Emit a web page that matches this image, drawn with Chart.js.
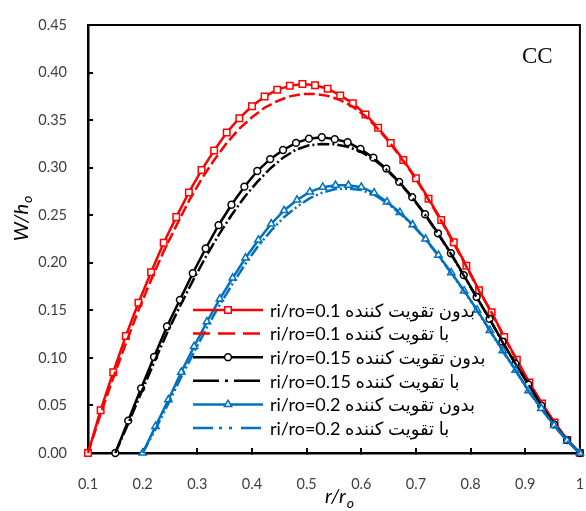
<!DOCTYPE html>
<html><head><meta charset="utf-8">
<script src="https://cdn.jsdelivr.net/npm/chart.js@4/dist/chart.umd.min.js"></script>
<style>html,body{margin:0;padding:0;background:#fff;overflow:hidden}#wrap{width:586px;height:511px;position:relative}canvas{display:block}</style>
</head><body><div id="wrap"><canvas id="c"></canvas></div>
<script>
// r/ro positions and W/ho values
const rA = [0.1,0.1231,0.1462,0.1692,0.1923,0.2154,0.2385,0.2615,0.2846,0.3077,0.3308,0.3538,0.3769,0.4,0.4231,0.4462,0.4692,0.4923,0.5154,0.5385,0.5615,0.5846,0.6077,0.6308,0.6538,0.6769,0.7,0.7231,0.7462,0.7692,0.7923,0.8154,0.8385,0.8615,0.8846,0.9077,0.9308,0.9538,0.9769,1.0];
const wA_without = [0,0.045,0.085,0.123,0.158,0.190,0.221,0.248,0.274,0.2975,0.318,0.337,0.352,0.3645,0.3747,0.382,0.386,0.388,0.3866,0.383,0.376,0.3676,0.356,0.342,0.326,0.308,0.289,0.2674,0.245,0.2215,0.197,0.171,0.148,0.122,0.098,0.074,0.052,0.032,0.0137,0];
const wA_with = [0,0.041,0.079,0.115,0.150,0.182,0.212,0.239,0.265,0.288,0.308,0.326,0.341,0.353,0.363,0.370,0.375,0.3775,0.3775,0.3755,0.371,0.364,0.354,0.3405,0.325,0.307,0.288,0.2665,0.244,0.2205,0.196,0.1705,0.1475,0.1215,0.0975,0.0735,0.0515,0.0315,0.0135,0];

const rB = [0.15,0.1736,0.1972,0.2208,0.2444,0.2681,0.2917,0.3153,0.3389,0.3625,0.3861,0.4097,0.4333,0.4569,0.4806,0.5042,0.5278,0.5514,0.575,0.5986,0.6222,0.6458,0.6694,0.6931,0.7167,0.7403,0.7639,0.7875,0.8111,0.8347,0.8583,0.8819,0.9056,0.9292,0.9528,0.9764,1.0];
const wB_without = [0,0.034,0.068,0.101,0.133,0.161,0.189,0.215,0.2395,0.261,0.280,0.2965,0.309,0.3186,0.326,0.3305,0.332,0.330,0.3267,0.3196,0.3105,0.299,0.285,0.269,0.251,0.231,0.210,0.187,0.164,0.141,0.117,0.094,0.072,0.050,0.030,0.0135,0];
const wB_with = [0,0.031,0.063,0.095,0.126,0.154,0.181,0.206,0.229,0.250,0.269,0.285,0.299,0.3105,0.319,0.3235,0.325,0.3245,0.322,0.317,0.309,0.298,0.2845,0.2685,0.2505,0.2305,0.2095,0.1865,0.1635,0.141,0.1165,0.094,0.0725,0.050,0.030,0.0135,0];

const rC = [0.2,0.2235,0.2471,0.2706,0.2941,0.3176,0.3412,0.3647,0.3882,0.4118,0.4353,0.4588,0.4824,0.5059,0.5294,0.5529,0.5765,0.6,0.6235,0.6471,0.6706,0.6941,0.7176,0.7412,0.7647,0.7882,0.8118,0.8353,0.8588,0.8824,0.9059,0.9294,0.9529,0.9765,1.0];
const wC_without = [0,0.028,0.056,0.085,0.112,0.138,0.162,0.184,0.205,0.224,0.241,0.255,0.266,0.2745,0.2795,0.2815,0.2815,0.2795,0.2735,0.264,0.253,0.240,0.225,0.208,0.1895,0.1705,0.1505,0.129,0.1076,0.087,0.0655,0.047,0.029,0.013,0];
const wC_with = [0,0.025,0.052,0.080,0.106,0.132,0.156,0.178,0.199,0.218,0.234,0.248,0.259,0.268,0.274,0.2775,0.278,0.2765,0.2715,0.263,0.252,0.2395,0.2245,0.2075,0.189,0.170,0.150,0.1285,0.107,0.0865,0.065,0.0465,0.0285,0.0128,0];

const seriesLabels = [
  'ri/ro=0.1 بدون تقویت کننده',
  'ri/ro=0.1 با تقویت کننده',
  'ri/ro=0.15 بدون تقویت کننده',
  'ri/ro=0.15 با تقویت کننده',
  'ri/ro=0.2 بدون تقویت کننده',
  'ri/ro=0.2 با تقویت کننده'
];
const xTickValues = [0.1,0.2,0.3,0.4,0.5,0.6,0.7,0.8,0.9,1.0];
const xTickLabels = ['0.1','0.2','0.3','0.4','0.5','0.6','0.7','0.8','0.9','1'];
const yTickValues = [0,0.05,0.10,0.15,0.20,0.25,0.30,0.35,0.40,0.45];
const yTickLabels = ['0.00','0.05','0.10','0.15','0.20','0.25','0.30','0.35','0.40','0.45'];
const xTitle = ['r/r', 'o'];
const yTitle = ['W/h', 'o'];
const panelLabel = 'CC';

const RED = '#FF0000', BLACK = '#000000', BLUE = '#0070C0';
const pairs = (rs, ws) => rs.map((r, i) => ({x: r, y: ws[i]}));

function mk(label, rs, ws, color, opts) {
  return Object.assign({
    label, data: pairs(rs, ws), borderColor: color, backgroundColor: color,
    borderWidth: 2.5, pointRadius: 0, pointHoverRadius: 0, pointBackgroundColor: '#fff',
    pointBorderColor: color, pointBorderWidth: 1.5, clip: false, tension: 0, borderDash: []
  }, opts);
}

const datasets = [
  mk(seriesLabels[0], rA, wA_without, RED, {pointStyle: 'rect', pointRadius: 4.6}),
  mk(seriesLabels[1], rA, wA_with, RED, {borderDash: [11, 4], legendDash: [17, 8]}),
  mk(seriesLabels[2], rB, wB_without, BLACK, {pointStyle: 'circle', pointRadius: 3.4}),
  mk(seriesLabels[3], rB, wB_with, BLACK, {borderDash: [12, 3, 2, 3], legendDash: [26, 6, 3, 6]}),
  mk(seriesLabels[4], rC, wC_without, BLUE, {pointStyle: 'triangle', pointRadius: 4.2}),
  mk(seriesLabels[5], rC, wC_with, BLUE, {borderDash: [12, 3, 2, 3, 2, 3], legendDash: [20, 6, 3, 7, 3, 9]})
];
datasets.forEach((d, i) => { d.order = datasets.length - 1 - i; });

function drawMarker(ctx, style, r, x, y) {
  ctx.beginPath();
  if (style === 'rect') {
    const s = r * Math.SQRT1_2;
    ctx.rect(x - s, y - s, 2 * s, 2 * s);
  } else if (style === 'circle') {
    ctx.arc(x, y, r, 0, Math.PI * 2);
  } else if (style === 'triangle') {
    ctx.moveTo(x, y - r);
    ctx.lineTo(x + r * Math.sin(Math.PI * 2 / 3), y - r * Math.cos(Math.PI * 2 / 3));
    ctx.lineTo(x - r * Math.sin(Math.PI * 2 / 3), y - r * Math.cos(Math.PI * 2 / 3));
    ctx.closePath();
  }
  ctx.fill(); ctx.stroke();
}

const frame = {
  id: 'frame',
  beforeDatasetsDraw(chart) {
    const {ctx, chartArea: a} = chart;
    ctx.save();
    ctx.strokeStyle = '#000'; ctx.lineWidth = 2;
    ctx.strokeRect(a.left, a.top, a.right - a.left, a.bottom - a.top);
    ctx.restore();
  }
};

const annotations = {
  id: 'annotations',
  afterDraw(chart) {
    const ctx = chart.ctx;
    ctx.save();
    // legend inside the plot
    const lx0 = 193, lx1 = 263, tx = 270, ly0 = 310, ldy = 23.6;
    chart.data.datasets.forEach((ds, i) => {
      const y = ly0 + i * ldy;
      ctx.strokeStyle = ds.borderColor; ctx.lineWidth = ds.borderWidth;
      ctx.setLineDash(ds.legendDash || []);
      ctx.beginPath(); ctx.moveTo(lx0, y); ctx.lineTo(lx1, y); ctx.stroke();
      ctx.setLineDash([]);
      if (ds.pointRadius > 0) {
        ctx.fillStyle = '#fff'; ctx.lineWidth = ds.pointBorderWidth;
        drawMarker(ctx, ds.pointStyle, ds.pointRadius, (lx0 + lx1) / 2, y);
      }
      ctx.fillStyle = '#000';
      ctx.font = '18px Lato, "DejaVu Sans", sans-serif';
      ctx.textAlign = 'left'; ctx.textBaseline = 'middle';
      ctx.fillText(ds.label, tx, y + 1);
    });
    // panel label
    ctx.fillStyle = '#000';
    ctx.font = '23px "Liberation Serif", "Times New Roman", serif';
    ctx.textAlign = 'left'; ctx.textBaseline = 'alphabetic';
    ctx.fillText(panelLabel, 522, 63);
    // x axis title with subscript
    const big = 'italic 20px Lato, sans-serif', small = 'italic 14px Lato, sans-serif';
    ctx.font = big;
    const wx = ctx.measureText(xTitle[0]).width;
    ctx.font = small;
    const wsx = ctx.measureText(xTitle[1]).width;
    let sx = 339 - (wx + wsx) / 2;
    ctx.font = big; ctx.fillText(xTitle[0], sx, 503);
    ctx.font = small; ctx.fillText(xTitle[1], sx + wx + 1, 508);
    // y axis title rotated
    ctx.translate(28, 219);
    ctx.rotate(-Math.PI / 2);
    ctx.font = big;
    const wy = ctx.measureText(yTitle[0]).width;
    ctx.font = small;
    const wsy = ctx.measureText(yTitle[1]).width;
    let sy = -(wy + wsy) / 2;
    ctx.font = big; ctx.fillText(yTitle[0], sy, 0);
    ctx.font = small; ctx.fillText(yTitle[1], sy + wy + 1, 4);
    ctx.restore();
  }
};

const zeroPad = s => { s.paddingLeft = 0; s.paddingRight = 0; s.paddingTop = 0; s.paddingBottom = 0; };

new Chart(document.getElementById('c'), {
  type: 'line',
  data: {datasets},
  options: {
    responsive: true, maintainAspectRatio: false, animation: false,
    events: [],
    layout: {padding: {left: 0, right: 6, top: 25, bottom: 0}},
    plugins: {legend: {display: false}, tooltip: {enabled: false}, title: {display: false}},
    scales: {
      x: {
        type: 'linear', min: 0.1, max: 1.0,
        afterBuildTicks: s => { s.ticks = xTickValues.map(v => ({value: v})); },
        afterFit: s => { s.height = 58; zeroPad(s); },
        ticks: {callback: (v, i) => xTickLabels[i], color: '#404040', font: {family: 'Lato', size: 14.5}, padding: 28, maxRotation: 0, autoSkip: false},
        grid: {drawOnChartArea: false, drawTicks: true, tickLength: -5, color: '#000', lineWidth: 2},
        border: {display: true, color: '#000', width: 2.5}
      },
      y: {
        type: 'linear', min: 0, max: 0.45,
        afterBuildTicks: s => { s.ticks = yTickValues.map(v => ({value: v})); },
        afterFit: s => { s.width = 88; zeroPad(s); },
        ticks: {callback: (v, i) => yTickLabels[i], color: '#404040', font: {family: 'Lato', size: 14.5}, padding: 26, autoSkip: false},
        grid: {drawOnChartArea: false, drawTicks: true, tickLength: -5, color: '#000', lineWidth: 2},
        border: {display: true, color: '#000', width: 2.5}
      }
    }
  },
  plugins: [frame, annotations]
});
</script></body></html>
